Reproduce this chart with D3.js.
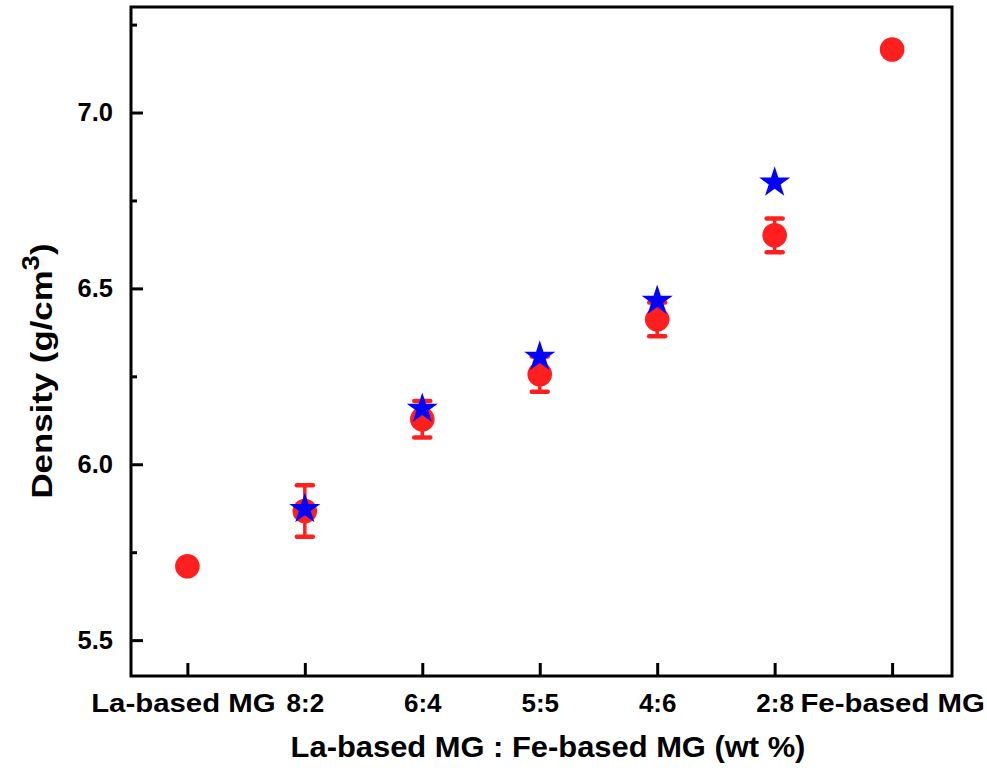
<!DOCTYPE html>
<html>
<head>
<meta charset="utf-8">
<script src="https://cdn.jsdelivr.net/npm/d3@7"></script>
<style>
  html, body { margin: 0; padding: 0; background: #fff; }
  svg { display: block; font-family: "Liberation Sans", Arial, sans-serif; font-weight: bold; }
</style>
</head>
<body>
<svg id="chart" width="987" height="770"></svg>
<script>
// Composition labels along the x axis
const categories = ["La-based MG", "8:2", "6:4", "5:5", "4:6", "2:8", "Fe-based MG"];
// Measured density (g/cm^3), red circles
const measured = [5.71, 5.867, 6.128, 6.256, 6.412, 6.651, 7.179];
// Standard deviation of the measured density (null = no bar)
const measuredErr = [null, 0.073, 0.052, 0.05, 0.048, 0.048, null];
// Calculated density (rule of mixtures), blue stars
const calculated = [null, 5.877, 6.162, 6.31, 6.469, 6.805, null];
// Y axis tick values
const yMajorTicks = [5.5, 6.0, 6.5, 7.0];
const yMinorTicks = [5.75, 6.25, 6.75, 7.25];

const svg = d3.select("#chart");
const plotL = 131, plotR = 952, plotT = 7, plotB = 676;

const x = d3.scaleLinear().domain([-0.48, 6.51]).range([plotL, plotR]);
const y = d3.scaleLinear().domain([5.398, 7.3]).range([plotB, plotT]);

const red = "#ff1f1f";
const blue = "#0000ff";
const fontFam = "'Liberation Sans', Arial, sans-serif";

// Y axis: major ticks with labels, pointing inward
const yAxis = svg.append("g")
  .attr("transform", `translate(${plotL},0)`)
  .call(d3.axisLeft(y).tickValues(yMajorTicks).tickFormat(d3.format(".1f"))
    .tickSizeInner(-12).tickSizeOuter(0).tickPadding(18));
yAxis.select(".domain").remove();
yAxis.selectAll("line").attr("stroke", "#000").attr("stroke-width", 3);
yAxis.selectAll("text").attr("font-size", 25.5).attr("font-family", fontFam)
  .attr("font-weight", "bold").attr("fill", "#000");

// Y axis minor ticks
const yMinor = svg.append("g")
  .attr("transform", `translate(${plotL},0)`)
  .call(d3.axisLeft(y).tickValues(yMinorTicks).tickFormat("")
    .tickSizeInner(-6).tickSizeOuter(0));
yMinor.select(".domain").remove();
yMinor.selectAll("line").attr("stroke", "#000").attr("stroke-width", 3);

// X axis: category ticks pointing inward; word labels are set a little wider
const xAxis = svg.append("g")
  .attr("transform", `translate(0,${plotB})`)
  .call(d3.axisBottom(x).tickValues(d3.range(categories.length)).tickFormat(i => categories[i])
    .tickSizeInner(-13).tickSizeOuter(0).tickPadding(17));
xAxis.select(".domain").remove();
xAxis.selectAll("line").attr("stroke", "#000").attr("stroke-width", 3);
xAxis.selectAll("text").attr("font-size", 26).attr("font-family", fontFam)
  .attr("font-weight", "bold").attr("fill", "#000")
  .attr("y", 35.7).attr("dy", null)
  .attr("x", (d, i) => i === 0 ? -4 : 0)
  .attr("transform", (d, i) => /[A-Za-z]/.test(categories[i]) ? "scale(1.13,1)" : null);

// Plot frame
svg.append("rect")
  .attr("x", plotL).attr("y", plotT)
  .attr("width", plotR - plotL).attr("height", plotB - plotT)
  .attr("fill", "none").attr("stroke", "#000").attr("stroke-width", 3);

// Error bars
const errData = measured.map((v, i) => ({ i, v, e: measuredErr[i] })).filter(d => d.e != null);
const eb = svg.append("g").attr("stroke", red).attr("stroke-width", 3.5);
eb.selectAll("line.stem").data(errData).join("line")
  .attr("class", "stem")
  .attr("x1", d => x(d.i)).attr("x2", d => x(d.i))
  .attr("y1", d => y(d.v - d.e)).attr("y2", d => y(d.v + d.e));
eb.selectAll("line.capTop").data(errData).join("line")
  .attr("class", "capTop")
  .attr("x1", d => x(d.i) - 8).attr("x2", d => x(d.i) + 8)
  .attr("y1", d => y(d.v + d.e)).attr("y2", d => y(d.v + d.e))
  .attr("stroke-width", 4.5).attr("stroke-linecap", "round");
eb.selectAll("line.capBot").data(errData).join("line")
  .attr("class", "capBot")
  .attr("x1", d => x(d.i) - 8).attr("x2", d => x(d.i) + 8)
  .attr("y1", d => y(d.v - d.e)).attr("y2", d => y(d.v - d.e))
  .attr("stroke-width", 4.5).attr("stroke-linecap", "round");

// Measured density circles
svg.append("g").selectAll("circle").data(measured).join("circle")
  .attr("cx", (d, i) => x(i)).attr("cy", d => y(d))
  .attr("r", 12.3).attr("fill", red);

// Calculated density stars
const star = d3.symbol().type(d3.symbolStar).size(300);
svg.append("g").selectAll("path")
  .data(calculated.map((v, i) => ({ i, v })).filter(d => d.v != null))
  .join("path")
  .attr("d", star)
  .attr("transform", d => `translate(${x(d.i)},${y(d.v) + 1.5})`)
  .attr("fill", blue);

// Axis titles
svg.append("text")
  .attr("transform", "translate(548,757) scale(1.03,1)")
  .attr("text-anchor", "middle").attr("font-size", 30).attr("fill", "#000")
  .attr("font-family", fontFam)
  .text("La-based MG : Fe-based MG (wt %)");

const yt = svg.append("text")
  .attr("transform", `translate(52,371) rotate(-90) scale(1.2,1)`)
  .attr("text-anchor", "middle").attr("font-size", 29).attr("fill", "#000")
  .attr("font-family", fontFam);
yt.append("tspan").text("Density (g/cm");
yt.append("tspan").attr("baseline-shift", "super").attr("font-size", 23).text("3");
yt.append("tspan").text(")");
</script>
</body>
</html>
